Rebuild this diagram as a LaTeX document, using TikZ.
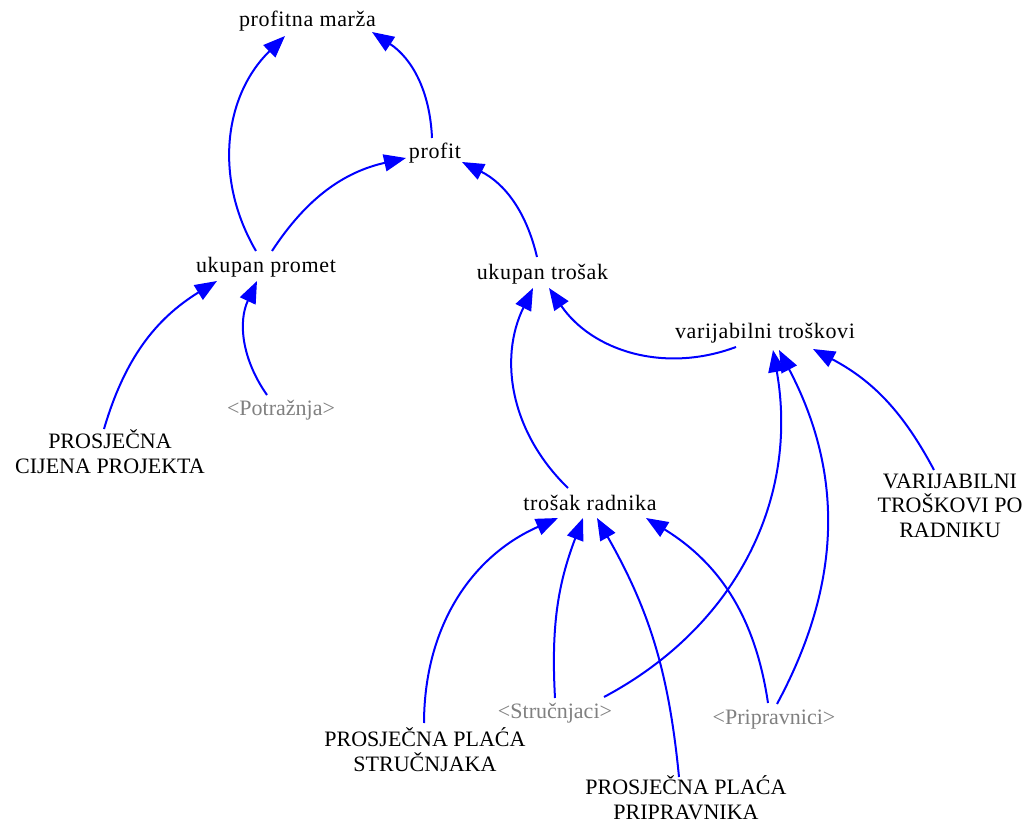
\documentclass[tikz,border=0pt]{standalone}
\usepackage{fontspec}
\setmainfont{Liberation Serif}
\newfontfamily\spacedfont[LetterSpace=3]{Liberation Serif}
\usetikzlibrary{arrows.meta}

\definecolor{shadowgray}{RGB}{128,128,128}

\begin{document}
\begin{tikzpicture}[x=0.5pt, y=0.5pt, >={Triangle[length=11pt, width=8.5pt]}]
	\tikzstyle{const} = [inner sep=0pt, anchor=base, align=center, font=\fontsize{11}{12.25}\selectfont]
	\tikzstyle{var} = [const, font=\fontsize{11}{12.25}\selectfont\spacedfont]
	\tikzstyle{shadow} = [const, text=shadowgray]
	\tikzstyle{link} = [color=blue, line width=1pt]
	
	\useasboundingbox (0, 0) rectangle (1024, 821);
	
	% base = last line of the text
	\node[var] 		at (307.5, 794) 	(marza) 		{profitna marža};
	\node[var] 		at (435, 662) 		(profit) 		{profit};
	\node[var] 		at (266, 548) 		(promet) 		{ukupan promet};
	\node[var] 		at (542.5, 541) 	(trosak) 		{ukupan trošak};
	\node[var] 		at (765, 482) 		(varij) 		{varijabilni troškovi};
	\node[shadow] 	at (281, 406) 		(potraznja) 	{<Potražnja>};
	\node[const] 	at (110, 348) 		(cijena) 		{PROSJEČNA\\CIJENA PROJEKTA};
	\node[var] 		at (590, 311) 		(radnik) 		{trošak radnika};
	\node[const] 	at (950, 284) 		(vtpr) 			{VARIJABILNI\\TROŠKOVI PO\\RADNIKU};
	\node[shadow] 	at (555, 103) 		(strucnjaci) 	{<Stručnjaci>};
	\node[shadow] 	at (774, 97) 		(pripravnici) 	{<Pripravnici>};
	\node[const] 	at (425, 50) 		(placas) 		{PROSJEČNA PLAĆA\\STRUČNJAKA};
	\node[const] 	at (686, 2) 		(placap) 		{PROSJEČNA PLAĆA\\PRIPRAVNIKA};
	
	% veze
	\path[->, link]
	([shift={(-10,22)}]promet.base) 		edge[bend left=38] 	([shift={(-22.5,-9)}]marza.base)
	([shift={(-3,21)}]profit.base) 			edge[bend right=27] ([shift={(64.5,-5)}]marza.base)
	([shift={(6,22)}]promet.base) 			edge[bend left=22] 	([shift={(-29,1)}]profit.base)
	([shift={(-5.5,23)}]trosak.base) 		edge[bend right=25] ([shift={(27,-3)}]profit.base)
	([shift={(-6,44)}]cijena.base) 			edge[bend left=21] 	([shift={(-49,-8)}]promet.base)
	([shift={(-14,20)}]potraznja.base) 		edge[bend left=30] 	([shift={(-9,-8)}]promet.base)
	([shift={(-22,22)}]radnik.base) 		edge[bend left=36] 	([shift={(-9.5,-8)}]trosak.base)
	([shift={(-29,-8)}]varij.base) 			edge[bend left=38] 	([shift={(6.5,-8)}]trosak.base)
	([shift={(-16,67)}]vtpr.base) 			edge[bend right=17] ([shift={(48,-10)}]varij.base)
	([shift={(49,21)}]strucnjaci.base) 		edge[bend right=36] ([shift={(8,-11)}]varij.base)
	([shift={(3,20)}]pripravnici.base) 		edge[bend right=28] ([shift={(14,-11)}]varij.base)
	([shift={(-1,48)}]placas.base) 			edge[bend left=33] 	([shift={(-32,-8)}]radnik.base)
	([shift={(0,20)}]strucnjaci.base) 		edge[bend left=12] 	([shift={(-7,-8)}]radnik.base)
	([shift={(-7,42)}]placap.base) 			edge[bend right=12] ([shift={(7,-8)}]radnik.base)
	([shift={(-6,21)}]pripravnici.base) 	edge[bend right=25] ([shift={(56,-8)}]radnik.base);
\end{tikzpicture}
\end{document}
